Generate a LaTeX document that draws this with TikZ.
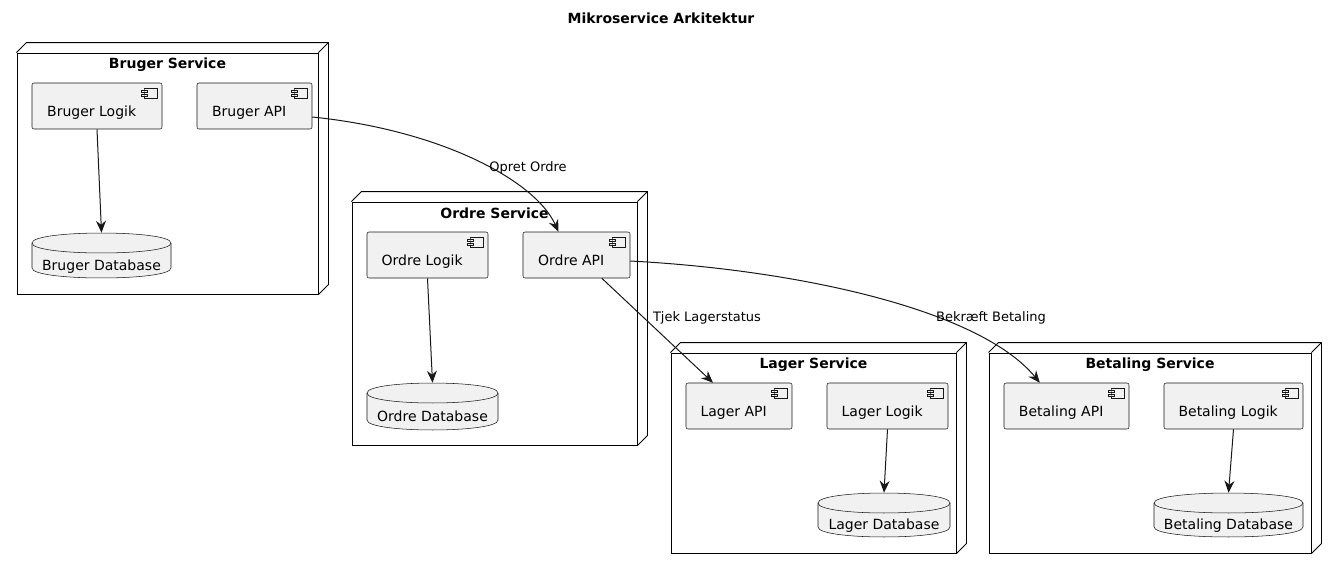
\documentclass[tikz,border=0pt]{standalone}
\usepackage{fontspec}
\setmainfont{DejaVu Sans}
\usetikzlibrary{arrows.meta,fit}
\definecolor{ln}{HTML}{181818}
\definecolor{cf}{HTML}{F1F1F1}
\tikzset{
 svcbox/.style={draw=black, line width=0.7pt, fill=white, inner sep=0pt},
 svcedge/.style={draw=black, line width=0.7pt},
 svctitle/.style={font=\bfseries\fontsize{10.5}{12}\selectfont, inner sep=0pt},
 compbox/.style={draw=ln, line width=0.4pt, fill=cf, rounded corners=1.5pt, inner sep=0pt, font=\fontsize{10.5}{12}\selectfont},
 compicon/.style={draw=ln, line width=0.35pt, fill=cf},
 dbshape/.style={draw=ln, line width=0.4pt, fill=cf},
 dbtext/.style={draw=none, inner sep=0pt, font=\fontsize{10.5}{12}\selectfont},
 flow/.style={draw=ln, line width=0.75pt, -{Stealth[length=9pt,width=7.5pt,inset=3pt]}},
 flowlabel/.style={font=\fontsize{9.75}{11}\selectfont, inner sep=0pt},
 titlestyle/.style={font=\bfseries\fontsize{10.5}{12}\selectfont, inner sep=0pt},
}
\newcommand\svcnode[6]{%
 \node[svcbox, fit={(#2,#3) (#4,#5)}] (#1) {};
 \draw[svcedge] (#1.north west) -- ++(10,-10) -| ([shift={(10,-10)}]#1.south east) -- (#1.south east);
 \draw[svcedge] (#1.north east) -- ++(10,-10);
 \node[svctitle] (#1t) at ([yshift=-9pt]#1.north) {#6};
}
\newcommand\compnode[6]{%
 \node[compbox, fit={(#2,#3) (#4,#5)}] (#1) {\raisebox{-7.5pt}[0pt][0pt]{\makebox[0pt]{#6\hspace{8pt}}}};
 \draw[compicon, shift={(#1.north east)}] (-18,5) rectangle (-5,15);
 \draw[compicon, shift={(#1.north east)}] (-21,7) rectangle (-15,9) (-21,11) rectangle (-15,13);
}
\newcommand\dbnode[6]{%
 \pgfmathsetmacro\dya{#3+10}\pgfmathsetmacro\dyb{#5-10}%
 \pgfmathsetmacro\dyc{#3+10+13.3}\pgfmathsetmacro\dyd{#5-10+13.3}\pgfmathsetmacro\dye{#3+10-13.3}%
 \path[dbshape] (#2,\dya) -- (#2,\dyb) .. controls (#2,\dyd) and (#4,\dyd) .. (#4,\dyb) -- (#4,\dya) .. controls (#4,\dye) and (#2,\dye) .. cycle;
 \draw[dbshape, fill=none] (#2,\dya) .. controls (#2,\dyc) and (#4,\dyc) .. (#4,\dya);
 \node[dbtext, fit={(#2,#3) (#4,#5)}] (#1) {\raisebox{-11pt}[0pt][0pt]{#6}};
}
\begin{document}
\begin{tikzpicture}[x=0.75pt,y=-0.75pt]
\useasboundingbox (0,0) rectangle (1336,569);
\node[titlestyle] (title) at (661,18) {Mikroservice Arkitektur};

\svcnode{bsvc}{17}{53}{318}{294}{Bruger Service}
\svcnode{osvc}{352}{202}{637}{445}{Ordre Service}
\svcnode{lsvc}{671}{353}{956}{553}{Lager Service}
\svcnode{psvc}{989}{353}{1311}{553}{Betaling Service}

\compnode{blog}{32}{83}{162}{129}{Bruger Logik}
\compnode{bapi}{197}{83}{312}{129}{Bruger API}
\dbnode{bdb}{32}{233}{171}{278}{Bruger Database}

\compnode{olog}{367}{232}{488}{278}{Ordre Logik}
\compnode{oapi}{523}{232}{630}{278}{Ordre API}
\dbnode{odb}{367}{383}{498}{430}{Ordre Database}

\compnode{lapi}{686}{383}{792}{429}{Lager API}
\compnode{llog}{827}{383}{948}{429}{Lager Logik}
\dbnode{ldb}{818}{493}{950}{537}{Lager Database}

\compnode{papi}{1004}{383}{1129}{429}{Betaling API}
\compnode{plog}{1164}{383}{1303}{429}{Betaling Logik}
\dbnode{pdb}{1154}{493}{1303}{537}{Betaling Database}

\draw[flow] (blog.south) -- (bdb.north);
\draw[flow] (olog.south) -- (odb.north);
\draw[flow] (llog.south) -- (ldb.north);
\draw[flow] (plog.south) -- (pdb.north);

\draw[flow] ([yshift=-8.25pt]bapi.east) .. controls (440,130) and (535,180) .. ([xshift=-13.5pt]oapi.north);
\node[flowlabel] (l1) at (528,168) {Opret Ordre};
\draw[flow] ([xshift=19pt]oapi.south) -- ([xshift=-19.5pt]lapi.north);
\node[flowlabel] (l2) at (707,318) {Tjek Lagerstatus};
\draw[flow] ([yshift=-4.5pt]oapi.east) .. controls (800,270) and (980,310) .. ([xshift=-20pt]papi.north);
\node[flowlabel] (l3) at (991,318) {Bekræft Betaling};
\end{tikzpicture}
\end{document}
